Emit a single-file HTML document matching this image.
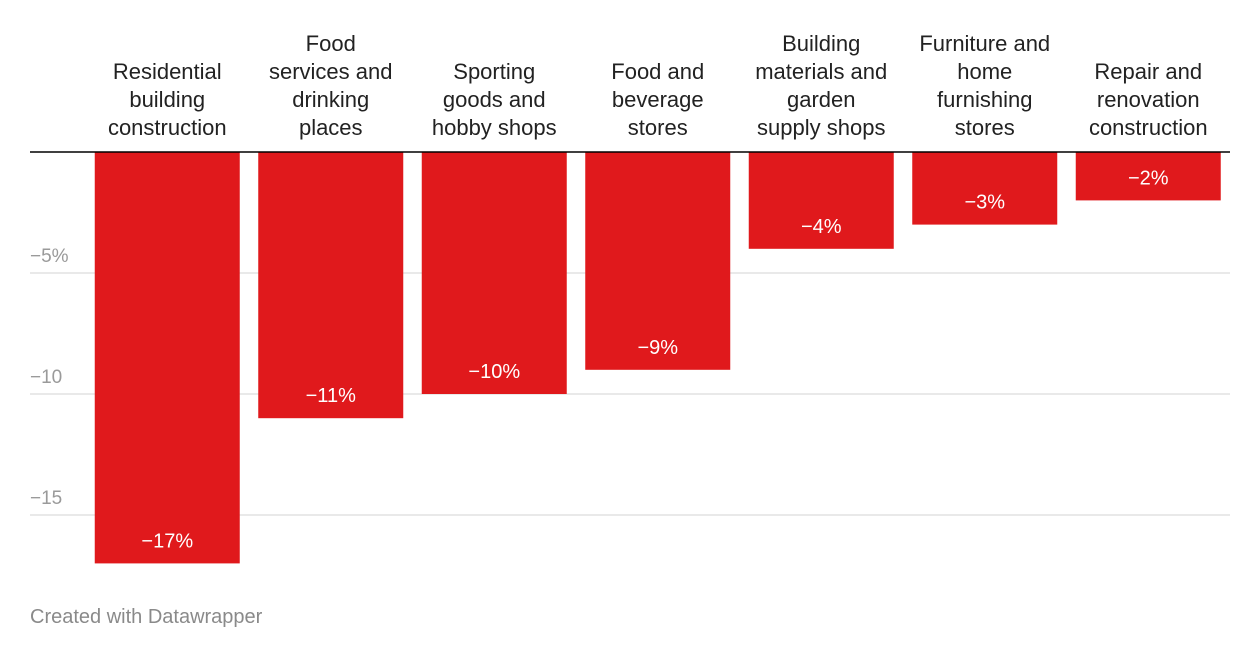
<!DOCTYPE html>
<html>
<head>
<meta charset="utf-8">
<style>
  html,body{margin:0;padding:0;background:#fff;}
  body{width:1260px;height:660px;overflow:hidden;font-family:"Liberation Sans",sans-serif;}
</style>
</head>
<body>
<svg id="chart" width="1260" height="660" xmlns="http://www.w3.org/2000/svg"></svg>
<script>
const categories = [
  ["Residential","building","construction"],
  ["Food","services and","drinking","places"],
  ["Sporting","goods and","hobby shops"],
  ["Food and","beverage","stores"],
  ["Building","materials and","garden","supply shops"],
  ["Furniture and","home","furnishing","stores"],
  ["Repair and","renovation","construction"]
];
const values = [-17, -11, -10, -9, -4, -3, -2];
const tickValues = [-5, -10, -15];
const tickLabels = ["−5%", "−10", "−15"];

const svg = document.getElementById('chart');
const NS = 'http://www.w3.org/2000/svg';
const plotLeft = 85.5, plotRight = 1230, gridLeft = 30;
const zeroY = 152, unit = 24.2;
const y = v => zeroY - v * unit;
const step = (plotRight - plotLeft) / categories.length;
const barW = 145;
const xCenter = i => plotLeft + step * i + step / 2;

function mk(tag, attrs){ const e=document.createElementNS(NS,tag); for(const k in attrs) e.setAttribute(k,attrs[k]); svg.appendChild(e); return e; }

tickValues.forEach((t,i)=>{
  const g = mk('line',{x1:gridLeft,x2:plotRight,y1:y(t),y2:y(t),stroke:'#e2e2e2','stroke-width':1.5});
  
  
  const tx = mk('text',{x:gridLeft,y:y(t)-11,fill:'#9a9a9a','font-size':19});
  tx.textContent = tickLabels[i];
  
  
});

values.forEach((v,i)=>{
  const cx = xCenter(i);
  const r = mk('rect',{x:cx-barW/2,y:zeroY,width:barW,height:y(v)-zeroY,fill:'#e0191c'});
  
  
  const vl = mk('text',{x:cx,y:y(v)-16,fill:'#fff','font-size':20,'text-anchor':'middle'});
  vl.textContent = '−' + Math.abs(v) + '%';
  
  
  const lines = categories[i];
  lines.forEach((ln,j)=>{
    const t = mk('text',{x:cx,y:135 - (lines.length-1-j)*28,fill:'#222','font-size':22,'text-anchor':'middle'});
    t.textContent = ln;
    
    
  });
});

const z = mk('line',{x1:gridLeft,x2:plotRight,y1:zeroY,y2:zeroY,stroke:'#000','stroke-width':1.5});



const f = mk('text',{x:30,y:623,fill:'#8a8a8a','font-size':20});
f.textContent = 'Created with Datawrapper';


</script>
</body>
</html>
